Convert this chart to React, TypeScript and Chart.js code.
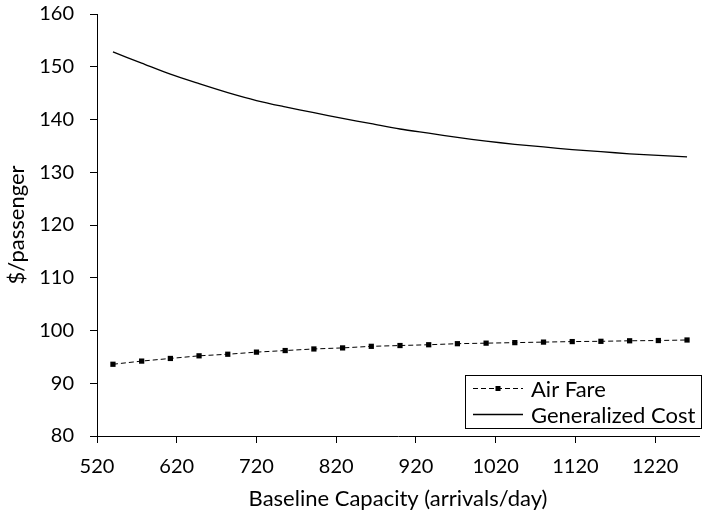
import React, { useEffect, useRef } from 'react';
import { Chart, registerables } from 'chart.js';

Chart.register(...registerables);

// ---- data ----
const capacity = [540, 576, 612, 648, 684, 720, 756, 792, 828, 864, 900, 936, 972, 1008, 1044, 1080, 1116, 1152, 1188, 1224, 1260];
const airFare = [93.6, 94.2, 94.7, 95.2, 95.5, 95.9, 96.2, 96.5, 96.7, 97.0, 97.15, 97.3, 97.5, 97.6, 97.7, 97.8, 97.9, 97.95, 98.05, 98.1, 98.2];
const generalizedCost = [152.8, 150.7, 148.6, 146.8, 145.1, 143.6, 142.4, 141.3, 140.2, 139.2, 138.2, 137.4, 136.6, 135.9, 135.3, 134.8, 134.3, 133.9, 133.5, 133.2, 132.9];
const xTicks = [520, 620, 720, 820, 920, 1020, 1120, 1220];
const seriesLabels = ['Air Fare', 'Generalized Cost'];
const xTitle = 'Baseline Capacity (arrivals/day)';
const yTitle = '$/passenger';

const FONT_FAMILY = 'Lato, "Open Sans", sans-serif';
const TICK_SIZE = 20;
const TEXT_SIZE = 22;

const boxLegend = {
  id: 'boxLegend',
  afterDraw(chart: any) {
    const { ctx, chartArea } = chart;
    const boxW = 236;
    const boxH = 53;
    const right = chartArea.right + 2;
    const bottom = chartArea.bottom - 8;
    const left = right - boxW;
    const top = bottom - boxH;
    ctx.save();
    ctx.fillStyle = '#fff';
    ctx.fillRect(left, top, boxW, boxH);
    ctx.strokeStyle = '#000';
    ctx.lineWidth = 1;
    ctx.setLineDash([]);
    ctx.strokeRect(left + 0.5, top + 0.5, boxW, boxH);
    chart.data.datasets.forEach((ds: any, i: number) => {
      const y = Math.round(top + 13 + i * 26) + 0.5;
      const x0 = left + 8;
      const x1 = left + 58;
      ctx.strokeStyle = ds.borderColor;
      ctx.lineWidth = ds.borderWidth;
      ctx.setLineDash(ds.borderDash || []);
      ctx.beginPath();
      ctx.moveTo(x0, y);
      ctx.lineTo(x1, y);
      ctx.stroke();
      ctx.setLineDash([]);
      if (ds.pointRadius > 0) {
        const s = 5;
        ctx.fillStyle = ds.pointBackgroundColor;
        ctx.fillRect((x0 + x1) / 2 - s / 2, y - s / 2, s, s);
      }
      ctx.fillStyle = '#000';
      ctx.font = `${TEXT_SIZE}px ${FONT_FAMILY}`;
      ctx.textBaseline = 'middle';
      ctx.textAlign = 'left';
      ctx.fillText(ds.label, left + 66, y + 1);
    });
    ctx.restore();
  },
};

export default function App() {
  const ref = useRef<HTMLCanvasElement | null>(null);

  useEffect(() => {
    if (!ref.current) return;
    const tickFont = { family: FONT_FAMILY, size: TICK_SIZE };
    const titleFont = { family: FONT_FAMILY, size: TEXT_SIZE };
    const chart = new Chart(ref.current, {
      type: 'line',
      data: {
        datasets: [
          {
            label: seriesLabels[0],
            data: capacity.map((x, i) => ({ x, y: airFare[i] })),
            borderColor: '#000',
            backgroundColor: '#000',
            borderWidth: 1,
            borderDash: [5, 3],
            pointStyle: 'rect',
            pointRadius: 3.7,
            pointBackgroundColor: '#000',
            pointBorderColor: '#000',
            pointBorderWidth: 0,
            tension: 0,
          },
          {
            label: seriesLabels[1],
            data: capacity.map((x, i) => ({ x, y: generalizedCost[i] })),
            borderColor: '#000',
            backgroundColor: '#000',
            borderWidth: 1.3,
            pointRadius: 0,
            pointBackgroundColor: '#000',
            tension: 0.3,
          },
        ],
      },
      options: {
        responsive: false,
        animation: false,
        devicePixelRatio: 1,
        layout: { padding: { top: 14, right: 0, bottom: 0, left: 0 } },
        plugins: {
          legend: { display: false },
          tooltip: { enabled: false },
        },
        scales: {
          x: {
            type: 'linear',
            min: 520,
            max: 1275,
            afterBuildTicks: (scale: any) => {
              scale.ticks = xTicks.map((v) => ({ value: v }));
            },
            afterFit: (scale: any) => {
              scale.height = 81;
              scale.paddingLeft = 0;
              scale.paddingRight = 0;
            },
            grid: { drawOnChartArea: false, drawTicks: true, tickLength: 7, color: '#000' },
            border: { display: true, color: '#000', width: 1 },
            ticks: {
              color: '#000',
              font: tickFont,
              padding: 12,
              maxRotation: 0,
              autoSkip: false,
              callback: (v: any) => String(v),
            },
            title: { display: true, text: xTitle, color: '#000', font: titleFont, padding: { top: 0, bottom: 5 } },
          },
          y: {
            type: 'linear',
            min: 80,
            max: 160,
            afterFit: (scale: any) => {
              scale.width = 97;
              scale.paddingTop = 0;
              scale.paddingBottom = 0;
            },
            grid: { drawOnChartArea: false, drawTicks: true, tickLength: 7, color: '#000' },
            border: { display: true, color: '#000', width: 1 },
            ticks: { color: '#000', font: tickFont, stepSize: 10, padding: 16, callback: (v: any) => String(v) },
            title: { display: true, text: yTitle, color: '#000', font: titleFont, padding: { top: 4, bottom: 0 } },
          },
        },
      },
      plugins: [boxLegend],
    });
    return () => chart.destroy();
  }, []);

  return (
    <div style={{ position: 'fixed', left: 0, top: 0, width: 703, height: 517, background: '#fff' }}>
      <canvas ref={ref} width={703} height={517} style={{ display: 'block', width: 703, height: 517 }} />
    </div>
  );
}
